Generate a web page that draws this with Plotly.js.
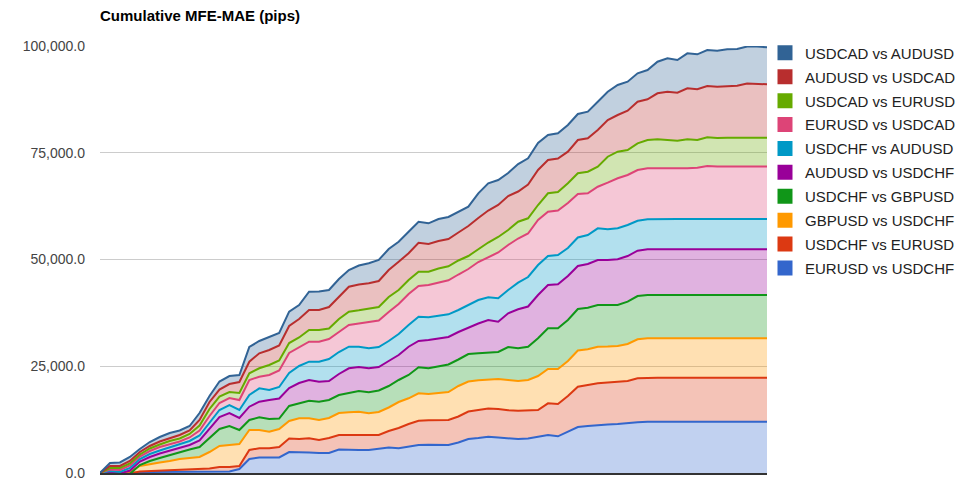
<!DOCTYPE html>
<html>
<head>
<meta charset="utf-8">
<script src="https://cdn.plot.ly/plotly-3.0.1.min.js"></script>
<style>html,body{margin:0;padding:0;background:#fff;}#chart{width:967px;height:485px;}</style>
</head>
<body>
<div id="chart"></div>
<script>
// Trade / sample index along the x axis
const points = [1,2,3,4,5,6,7,8,9,10,11,12,13,14,15,16,17,18,19,20,21,22,23,24,25,26,27,28,29,30,31,32,33,34,35,36,37,38,39,40,41,42,43,44,45,46,47,48,49,50,51,52,53,54,55,56,57,58,59,60,61,62,63,64,65,66,67,68];

// Per-series contributions (pips), stacked bottom -> top
const eurusdVsUsdchf = [0,0,0,0,117,234,234,234,234,234,234,351,351,351,937,3279,3630,3630,3630,4918,4918,4801,4684,4684,5503,5386,5386,5386,5621,5972,5785,6159,6557,6628,6674,6557,7143,7962,8197,8501,8314,8080,7962,8080,8431,8899,8595,9602,10773,11007,11241,11358,11475,11592,11873,12014,12014,12014,12014,12014,12014,12014,12014,12014,12014,12014,12014,12014];
const usdchfVsEurusd = [0,0,-117,-117,234,234,351,468,585,703,820,703,1054,1054,703,2108,2155,2155,2459,3162,3044,3326,3044,3513,3396,3513,3630,3513,3279,3864,4754,5316,5691,5714,5738,5855,6089,6440,6557,6604,6674,6604,6628,6510,6323,7424,7564,8431,9438,9602,9766,9836,9906,9953,10304,10304,10304,10304,10304,10304,10304,10304,10304,10304,10304,10304,10304,10304];
const gbpusdVsUsdchf = [0,0,-117,351,1288,1639,1874,2108,2459,2576,2693,3864,4918,5152,5152,4684,4286,3888,4215,4098,4848,4684,4684,4684,5152,5316,5340,5082,5386,5503,6089,6019,6417,6159,6323,6557,7143,7026,6955,6745,7026,7096,6955,7190,7962,8033,8197,8197,8478,8361,8571,8431,8361,8665,9133,9227,9227,9227,9227,9227,9227,9227,9227,9227,9227,9227,9227,9227];
const usdchfVsGbpusd = [0,-703,-703,-468,234,703,1054,1405,1522,1991,2342,3279,3981,4450,3279,2342,2974,2974,2459,3513,3466,4122,4286,4215,4215,4450,4848,4918,5035,5035,5152,5457,6089,6019,6206,6440,6206,6440,6323,6253,6323,7728,7658,7798,8829,9531,9531,9602,9719,9742,9766,9719,9602,9906,10140,10140,10140,10140,10140,10140,10140,10140,10140,10140,10140,10140,10140,10140];
const audusdVsUsdchf = [0,820,820,820,820,937,1054,1054,1054,1054,1522,2108,2810,3044,2810,3115,3653,4450,4684,4215,4801,4848,4684,4450,4918,5855,5621,5621,5503,5855,5855,6628,6159,6628,6510,6440,6440,6206,6979,7728,7096,7892,9133,9414,10140,10140,10304,10304,10070,10234,10539,10539,10702,10702,10609,10702,10702,10702,10702,10702,10702,10702,10702,10702,10702,10702,10702,10702];
const usdchfVsAudusd = [0,351,351,585,585,703,703,703,820,937,1171,1405,1639,1874,1874,2740,3138,2342,2693,3513,3981,4286,4684,5152,5152,5058,4754,4684,4684,4684,4918,5082,5691,5316,5433,5316,5152,5269,5503,5316,5480,5457,6229,6909,7026,6792,6862,6557,6674,6792,7424,7190,7260,7260,7026,7026,7096,7096,7096,7096,7096,7096,7096,7096,7096,7096,7096,7096];
const eurusdVsUsdcad = [0,351,468,585,585,703,820,820,703,820,1171,1639,1639,1639,2342,3513,2717,3513,3864,4684,4332,4684,4684,4684,4684,5082,5433,6229,6206,6792,7026,7260,7190,7564,7728,7963,8314,8431,8899,9321,10726,10539,10351,10187,10539,10374,10421,10539,10187,9766,9742,10913,11710,11710,11873,11944,11873,11710,11827,11873,12014,12412,12295,12295,12295,12295,12295,12295];
const usdcadVsEurusd = [0,351,468,468,468,585,585,703,703,820,1171,1639,1522,1405,1639,1569,1967,2342,2342,2342,2342,2740,2740,2459,3044,3115,3091,3138,3162,3513,3279,3279,3349,3115,3279,3279,3279,3044,3044,3513,3630,3513,3934,3560,3513,4309,4332,4614,4848,5058,4684,6089,6229,5855,6253,6628,6792,6792,6510,6792,6487,6721,6674,6745,6745,6745,6745,6745];
const audusdVsUsdcad = [0,468,468,585,585,585,703,703,820,820,1288,1639,1639,1874,2576,2717,3513,3513,3513,3981,4332,4684,4684,5035,5152,5855,6042,5855,6089,6323,6628,6253,6792,6487,6440,6393,6557,7026,7260,7494,7494,7963,7072,7916,8197,7798,7845,7400,7798,7822,8595,8595,8595,9204,9742,9531,10773,11311,11241,11944,11873,12014,12014,12108,12178,12693,12576,12506];
const usdcadVsAudusd = [0,703,820,937,703,937,1054,1171,1054,1054,1639,1405,1874,1874,1639,3443,2881,3115,2927,3349,3279,4286,4332,3981,4215,3911,4450,4684,4918,4918,4684,5058,4918,4848,5152,5152,4801,4520,5785,6370,5855,5386,6440,6136,6323,5855,5902,6253,6089,6229,6628,6628,7026,6792,6651,6862,7400,7822,7658,8197,8197,8431,8431,8595,8595,8665,8782,8665];

const seriesNames = ['EURUSD vs USDCHF','USDCHF vs EURUSD','GBPUSD vs USDCHF','USDCHF vs GBPUSD','AUDUSD vs USDCHF','USDCHF vs AUDUSD','EURUSD vs USDCAD','USDCAD vs EURUSD','AUDUSD vs USDCAD','USDCAD vs AUDUSD'];
const seriesValues = [eurusdVsUsdchf,usdchfVsEurusd,gbpusdVsUsdchf,usdchfVsGbpusd,audusdVsUsdchf,usdchfVsAudusd,eurusdVsUsdcad,usdcadVsEurusd,audusdVsUsdcad,usdcadVsAudusd];
const seriesColors = ['#3366cc','#dc3912','#ff9900','#109618','#990099','#0099c6','#dd4477','#66aa00','#b82e2e','#316395'];

const yTicks = [0,25000,50000,75000,100000];

function rgba(hex,a){
  const r=parseInt(hex.slice(1,3),16),g=parseInt(hex.slice(3,5),16),b=parseInt(hex.slice(5,7),16);
  return 'rgba('+r+','+g+','+b+','+a+')';
}

const traces = [];
seriesValues.forEach((vals,k)=>{
  traces.push({
    type:'scatter', mode:'lines', x:points, y:vals, name:seriesNames[k],
    stackgroup:'one', line:{color:seriesColors[k], width:2, shape:'linear'},
    fillcolor:rgba(seriesColors[k],0.3), showlegend:false, hoverinfo:'x+y+name'
  });
});
// Legend entries (top-to-bottom order as in the original)
for(let k=seriesNames.length-1;k>=0;k--){
  traces.push({
    type:'scatter', mode:'markers', x:[null], y:[null], name:seriesNames[k],
    legendgroup:'g'+k, marker:{symbol:'square', size:15, color:seriesColors[k]},
    showlegend:true, hoverinfo:'skip'
  });
}

const font = 'Arial, "Liberation Sans", sans-serif';
const layout = {
  width:967, height:485,
  margin:{l:100, r:200, t:46, b:12, pad:0, autoexpand:false},
  paper_bgcolor:'#ffffff', plot_bgcolor:'#ffffff',
  font:{family:font, size:14, color:'#222'},
  title:{text:'<b>Cumulative MFE-MAE (pips)</b>', font:{family:font, size:15, color:'#000'},
    xref:'container', yref:'container', x:100/967, xanchor:'left', y:1-16/485, yanchor:'middle'},
  xaxis:{range:[1,68], showgrid:false, zeroline:false, showticklabels:false, ticks:'',
    showline:true, linecolor:'#333333', linewidth:1.5, fixedrange:true},
  yaxis:{range:[0,100000], tickvals:yTicks, tickformat:',.1f', showgrid:true, gridcolor:'#cccccc',
    gridwidth:1, zeroline:false, showline:false, ticks:'', ticklabelstandoff:14,
    tickfont:{family:font, size:14, color:'#444444'}, fixedrange:true},
  legend:{x:0.997, xanchor:'left', xref:'paper', y:1.022, yanchor:'top', yref:'paper',
    traceorder:'grouped', tracegroupgap:1.4, itemsizing:'trace',
    font:{family:font, size:15, color:'#222222'}, bgcolor:'rgba(0,0,0,0)'},
  showlegend:true
};

Plotly.newPlot('chart', traces, layout, {displayModeBar:false, staticPlot:true});
</script>
</body>
</html>
